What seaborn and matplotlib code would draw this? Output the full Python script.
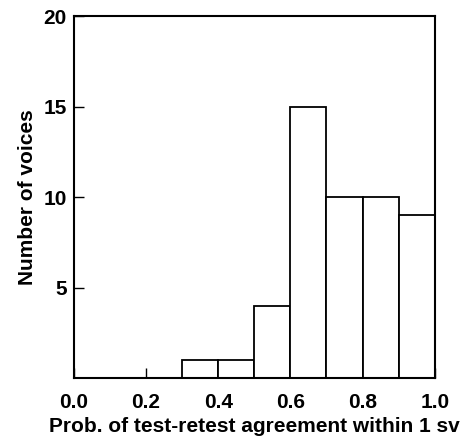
import matplotlib
matplotlib.use("Agg")
import matplotlib.pyplot as plt
import seaborn as sns
import pandas as pd

# Histogram of test-retest agreement probabilities, in bins of width 0.1
bin_left = [0.3, 0.4, 0.5, 0.6, 0.7, 0.8, 0.9]
voice_counts = [1, 1, 4, 15, 10, 10, 9]
x_ticks = [0.0, 0.2, 0.4, 0.6, 0.8, 1.0]
y_ticks = [5, 10, 15, 20]

sns.set_style("ticks")
plt.rcParams["font.family"] = ["Liberation Sans", "DejaVu Sans"]
plt.rcParams["font.weight"] = "bold"
plt.rcParams["text.color"] = "black"
plt.rcParams["axes.labelcolor"] = "black"

df = pd.DataFrame({"prob": [b + 0.05 for b in bin_left], "count": voice_counts})
edges = [round(b, 2) for b in bin_left] + [1.0]

fig = plt.figure(figsize=(4.64, 4.36), dpi=100)
ax = fig.add_axes([0.159, 0.133, 0.778, 0.830])

sns.histplot(data=df, x="prob", weights="count", bins=edges, ax=ax,
             color="white", edgecolor="black", linewidth=1.3, alpha=1.0)

ax.set_xlim(0, 1.0)
ax.set_ylim(0, 20)
ax.set_xticks(x_ticks)
ax.set_xticklabels([f"{t:.1f}" for t in x_ticks])
ax.set_yticks(y_ticks)
ax.tick_params(direction="in", length=7.2, width=1.0, labelsize=15,
               colors="black")
ax.tick_params(axis="x", pad=11)
ax.tick_params(axis="y", pad=5)
for lab in ax.get_xticklabels() + ax.get_yticklabels():
    lab.set_fontweight("bold")
for sp in ax.spines.values():
    sp.set_visible(True)
    sp.set_linewidth(1.5)
    sp.set_color("black")

ax.set_xlabel("Prob. of test-retest agreement within 1 sv", fontsize=15,
              fontweight="bold")
ax.xaxis.set_label_coords(0.5, -0.149)
ax.xaxis.label.set_verticalalignment("baseline")
ax.set_ylabel("Number of voices", fontsize=15, fontweight="bold")
ax.yaxis.set_label_coords(-0.1025, 0.5)

fig.savefig("out.png", dpi=100)
